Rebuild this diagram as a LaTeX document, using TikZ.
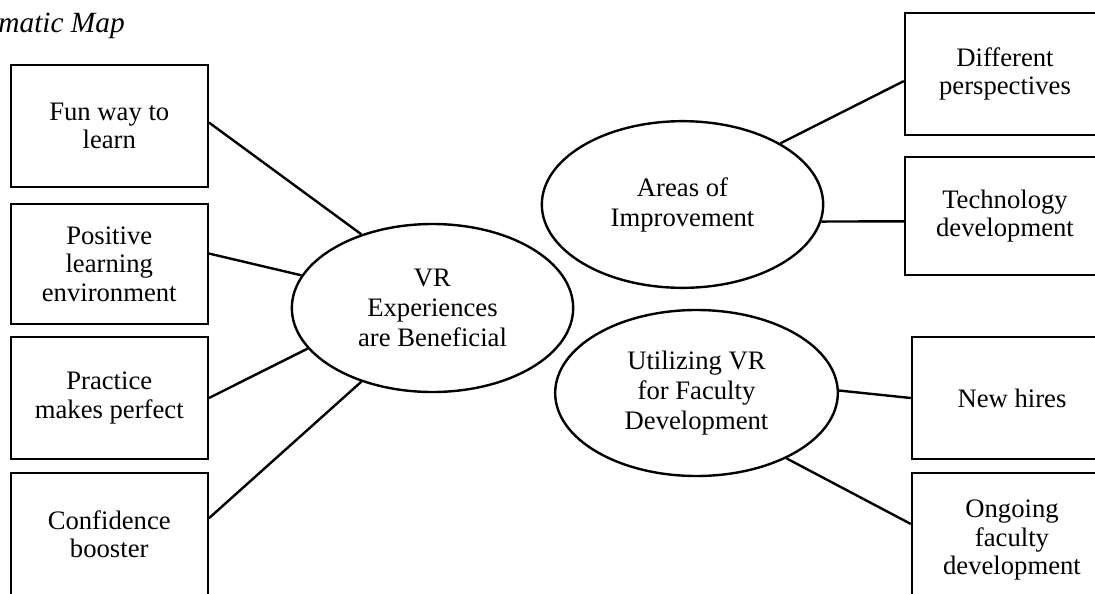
\documentclass[tikz,border=0pt]{standalone}
\usepackage{fontspec}
\setmainfont{Liberation Serif}
\usetikzlibrary{shapes.geometric}

\begin{document}
\begin{tikzpicture}[x=0.75pt,y=0.75pt,yscale=-1,xscale=1,
    theme/.style={draw, line width=1.8pt, rectangle, minimum width=147.75pt, minimum height=91.5pt, inner sep=0pt, align=center, font=\fontsize{20pt}{21.3pt}\selectfont},
    topic/.style={draw, line width=1.8pt, ellipse, minimum width=211pt, minimum height=126pt, inner sep=0pt, align=center, font=\fontsize{20pt}{22.5pt}\selectfont},
    link/.style={line width=1.8pt}]
    %set diagram size 1095 x 593
    \clip (0,0) rectangle (1095,593);

    % Text Node
    \node [anchor=base east, inner sep=0pt, font=\fontsize{22pt}{26pt}\selectfont\itshape] (title) at (125,32) {matic Map};

    %Shape: Rectangle
    \node [theme] (fun) at (109.25,126) {Fun way to\\learn};
    %Shape: Rectangle
    \node [theme, minimum height=90pt] (pos) at (109.25,264) {Positive\\learning\\environment};
    %Shape: Rectangle
    \node [theme] (prac) at (109.25,398) {Practice\\makes perfect};
    %Shape: Rectangle
    \node [theme] (conf) at (109.25,534) {Confidence\\booster};

    %Shape: Rectangle
    \node [theme, minimum width=150pt] (diff) at (1005,74) {Different\\perspectives};
    %Shape: Rectangle
    \node [theme, minimum width=150pt, minimum height=88.5pt] (tech) at (1005,216) {Technology\\development};
    %Shape: Rectangle
    \node [theme, minimum width=150pt] (hires) at (1012,398) {New hires};
    %Shape: Rectangle
    \node [theme, minimum width=150pt, minimum height=100.5pt] (ongo) at (1012,540) {Ongoing\\faculty\\development};

    %Shape: Ellipse
    \node [topic] (vr) at (432.5,308) {VR\\Experiences\\are Beneficial};
    %Shape: Ellipse
    \node [topic, minimum height=125pt] (areas) at (682.5,204.5) {Areas of\\Improvement};
    %Shape: Ellipse
    \node [topic, minimum width=212pt, minimum height=124.5pt] (util) at (696.5,393) {Utilizing VR\\for Faculty\\Development};

    %Straight Lines
    \draw [link] (fun.2) -- (vr.134);
    \draw [link] (pos.6) -- (vr.166);
    \draw [link] (prac.east) -- (vr.198);
    \draw [link] (conf.9) -- (vr.226);
    %Straight Lines
    \draw [link] (areas.32) -- (diff.184);
    \draw [link] (areas.353) -- (tech.183);
    \draw [link] (util.1) -- (hires.west);
    \draw [link] (util.324) -- (ongo.171);

\end{tikzpicture}
\end{document}
